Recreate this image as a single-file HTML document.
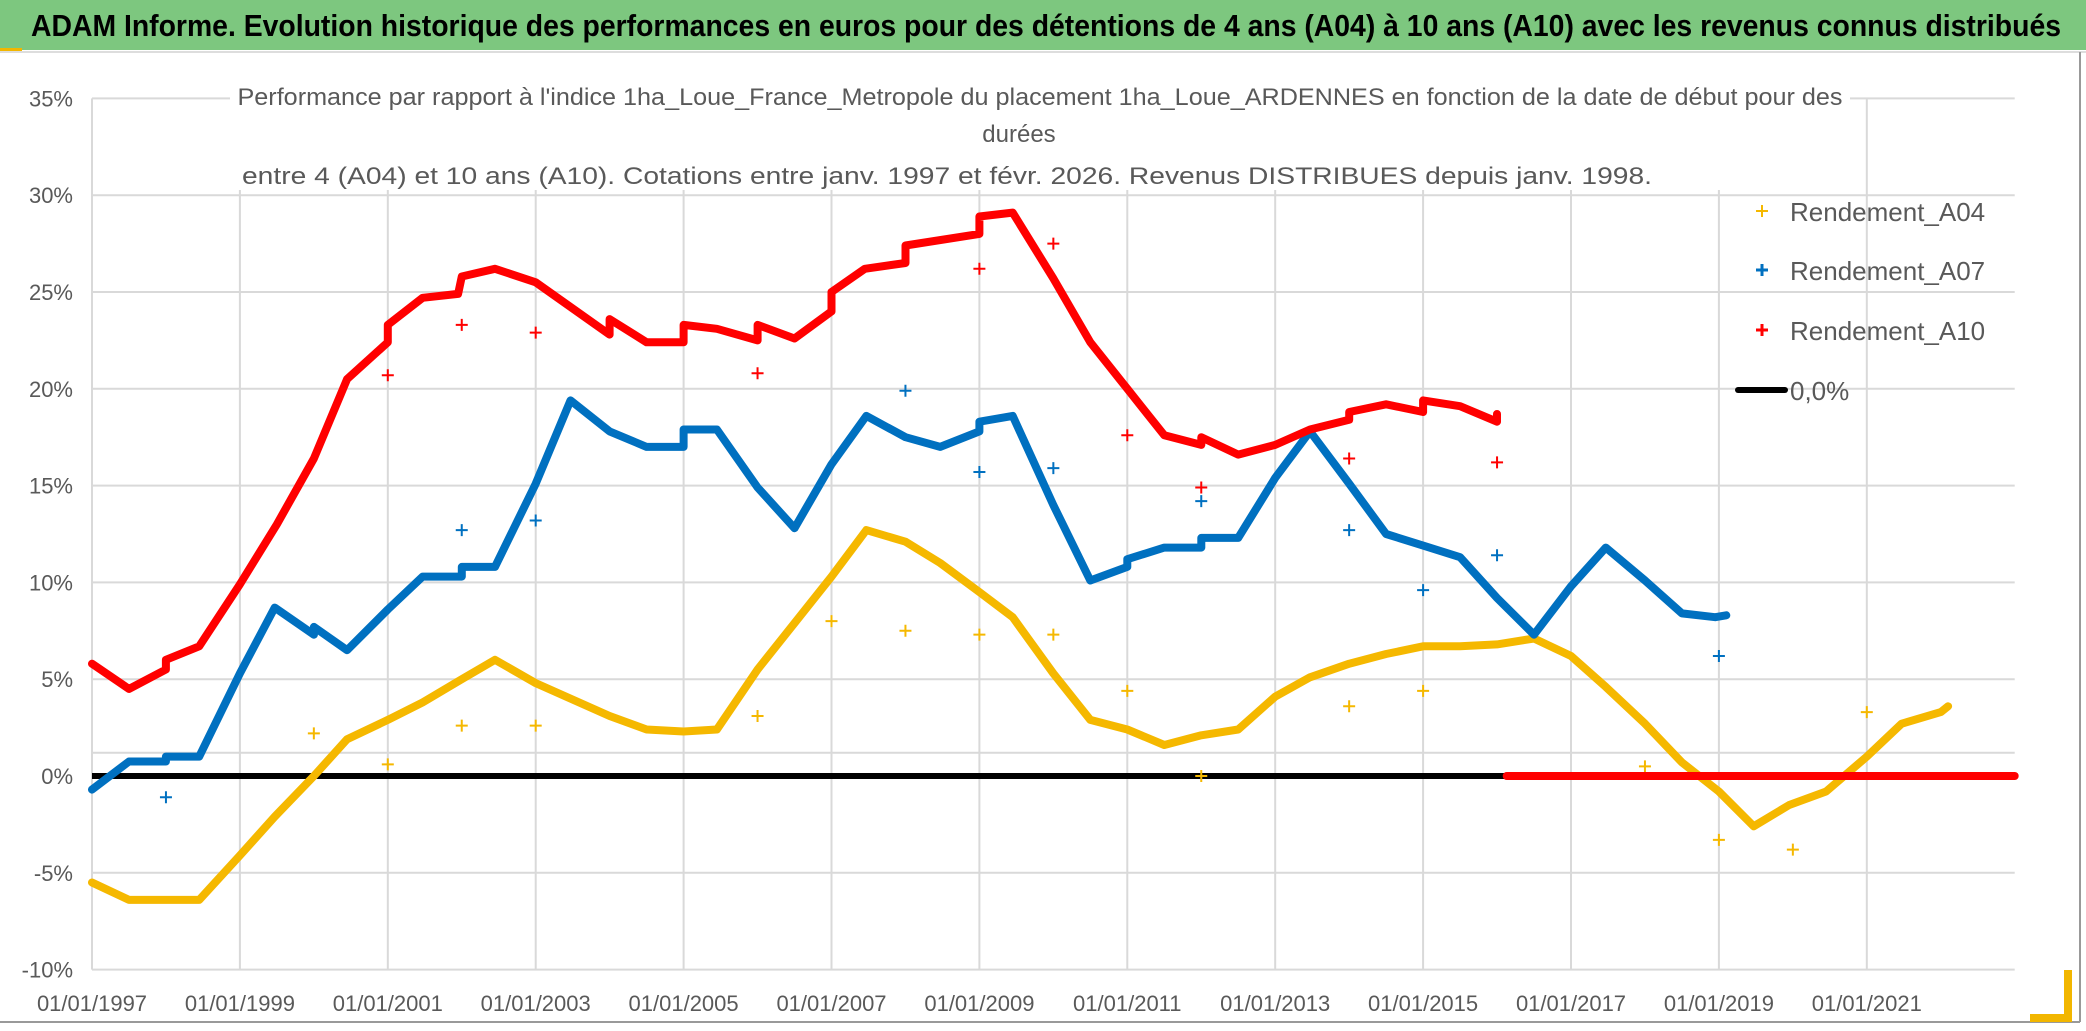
<!DOCTYPE html>
<html><head><meta charset="utf-8"><style>
html,body{margin:0;padding:0;background:#fff;}
svg{display:block;font-family:"Liberation Sans",sans-serif;}
</style></head><body>
<svg id="chart" width="2086" height="1031" viewBox="0 0 2086 1031" xmlns="http://www.w3.org/2000/svg">
<rect x="0" y="0" width="2086" height="50" fill="#7dc77f"/>
<rect x="0" y="48" width="22" height="4" fill="#f2b600"/>
<text x="1046" y="36" text-anchor="middle" font-size="31" font-weight="bold" fill="#000" textLength="2030" lengthAdjust="spacingAndGlyphs">ADAM Informe. Evolution historique des performances en euros pour des détentions de 4 ans (A04) à 10 ans (A10) avec les revenus connus distribués</text>
<line x1="0" y1="52" x2="2086" y2="52" stroke="#ddd" stroke-width="2"/>
<line x1="2080" y1="52" x2="2080" y2="1022" stroke="#999" stroke-width="2"/>
<line x1="0" y1="1022" x2="2080" y2="1022" stroke="#999" stroke-width="2"/>
<rect x="2064" y="970" width="8" height="52" fill="#f2b600"/>
<rect x="2030" y="1014" width="42" height="8" fill="#f2b600"/>
<g id="grid"></g>
<g id="yaxis"></g>
<g id="xaxis"></g>
<rect x="230" y="75" width="1620" height="115" fill="#fff"/>
<g font-size="24" fill="#595959">
<text x="1040" y="105" text-anchor="middle" textLength="1605" lengthAdjust="spacingAndGlyphs">Performance par rapport à l'indice 1ha_Loue_France_Metropole  du placement 1ha_Loue_ARDENNES en fonction de la date de début pour des</text>
<text x="1019" y="142" text-anchor="middle">durées</text>
<text x="947" y="184" text-anchor="middle" textLength="1410" lengthAdjust="spacingAndGlyphs">entre 4 (A04) et 10 ans (A10). Cotations entre janv. 1997 et févr. 2026. Revenus DISTRIBUES depuis janv. 1998.</text>
</g>
<g id="series"></g>
<g id="legend" font-size="26" fill="#595959">
<g><path d="M1756 211h12M1762 205v12" stroke="#f5b800" stroke-width="2"/><text x="1790" y="221">Rendement_A04</text></g>
<g><path d="M1756 270h12M1762 264v12" stroke="#0070c0" stroke-width="3"/><text x="1790" y="280">Rendement_A07</text></g>
<g><path d="M1756 330h12M1762 324v12" stroke="#ff0000" stroke-width="3"/><text x="1790" y="340">Rendement_A10</text></g>
<g><line x1="1738" y1="390" x2="1785" y2="390" stroke="#000" stroke-width="6" stroke-linecap="round"/><text x="1790" y="400">0,0%</text></g>
</g>
</svg>
<script>
const yTicks=[35,30,25,20,15,10,5,0,-5,-10];
const yTickLabels=["35%","30%","25%","20%","15%","10%","5%","0%","-5%","-10%"];
const xTicks=[1997,1999,2001,2003,2005,2007,2009,2011,2013,2015,2017,2019,2021];
const xTickLabels=["01/01/1997","01/01/1999","01/01/2001","01/01/2003","01/01/2005","01/01/2007","01/01/2009","01/01/2011","01/01/2013","01/01/2015","01/01/2017","01/01/2019","01/01/2021"];
const a10Dates=[1997.0,1997.5,1998.0,1998.0,1998.45,1999.0,1999.5,2000.0,2000.45,2001.0,2001.0,2001.47,2001.95,2002.0,2002.45,2003.0,2004.0,2004.0,2004.5,2005.0,2005.0,2005.45,2006.0,2006.0,2006.5,2007.0,2007.0,2007.45,2008.0,2008.0,2009.0,2009.0,2009.45,2010.0,2010.5,2011.0,2011.5,2012.0,2012.0,2012.5,2013.0,2013.47,2014.0,2014.0,2014.5,2015.0,2015.0,2015.5,2016.0,2016.0];
const a10Values=[5.8,4.5,5.5,6.0,6.7,9.9,13.0,16.4,20.5,22.4,23.3,24.7,24.9,25.8,26.2,25.5,22.8,23.6,22.4,22.4,23.3,23.1,22.5,23.3,22.6,24.0,25.0,26.2,26.5,27.4,28.0,28.9,29.1,25.7,22.4,20.0,17.6,17.1,17.5,16.6,17.1,17.9,18.4,18.8,19.2,18.8,19.4,19.1,18.3,18.7];
const a10OutDates=[2001,2002,2003,2006,2009,2010,2011,2012,2014,2016];
const a10OutValues=[20.7,23.3,22.9,20.8,26.2,27.5,17.6,14.9,16.4,16.2];
const a10ZeroDates=[2016.13,2023.0];
const a10ZeroValues=[0,0];
const a07Dates=[1997.0,1997.5,1998.0,1998.0,1998.45,1999.0,1999.47,2000.0,2000.0,2000.45,2001.0,2001.47,2002.0,2002.0,2002.45,2003.0,2003.47,2004.0,2004.5,2005.0,2005.0,2005.45,2006.0,2006.5,2007.0,2007.47,2008.0,2008.47,2009.0,2009.0,2009.45,2010.0,2010.5,2011.0,2011.0,2011.5,2012.0,2012.0,2012.5,2013.0,2013.47,2014.0,2014.5,2015.0,2015.5,2016.0,2016.5,2017.0,2017.47,2018.0,2018.5,2018.95,2019.1];
const a07Values=[-0.7,0.75,0.75,1.0,1.0,5.3,8.7,7.3,7.7,6.5,8.6,10.3,10.3,10.8,10.8,15.1,19.4,17.8,17.0,17.0,17.9,17.9,14.9,12.8,16.1,18.6,17.5,17.0,17.8,18.3,18.6,14.0,10.1,10.8,11.2,11.8,11.8,12.3,12.3,15.4,17.8,15.1,12.5,11.9,11.3,9.2,7.3,9.8,11.8,10.1,8.4,8.2,8.3];
const a07OutDates=[1998,2002,2003,2008,2009,2010,2012,2014,2015,2016,2019];
const a07OutValues=[-1.1,12.7,13.2,19.9,15.7,15.9,14.2,12.7,9.6,11.4,6.2];
const a04Dates=[1997.0,1997.5,1998.0,1998.45,1999.0,1999.47,2000.0,2000.45,2001.0,2001.47,2002.0,2002.45,2003.0,2004.0,2004.5,2005.0,2005.45,2006.0,2006.5,2007.0,2007.47,2008.0,2008.47,2009.0,2009.45,2010.0,2010.5,2011.0,2011.5,2012.0,2012.5,2013.0,2013.47,2014.0,2014.5,2015.0,2015.5,2016.0,2016.5,2017.0,2017.47,2018.0,2018.5,2019.0,2019.47,2019.95,2020.45,2021.0,2021.47,2022.0,2022.1];
const a04Values=[-5.5,-6.4,-6.4,-6.4,-4.1,-2.1,0,1.9,2.9,3.8,5.0,6.0,4.8,3.1,2.4,2.3,2.4,5.5,7.9,10.3,12.7,12.1,11.0,9.5,8.2,5.3,2.9,2.4,1.6,2.1,2.4,4.1,5.1,5.8,6.3,6.7,6.7,6.8,7.1,6.2,4.6,2.7,0.7,-0.8,-2.6,-1.5,-0.8,1.0,2.7,3.3,3.6];
const a04OutDates=[2000,2001,2002,2003,2006,2007,2008,2009,2010,2011,2012,2014,2015,2018,2019,2020,2021];
const a04OutValues=[2.2,0.6,2.6,2.6,3.1,8.0,7.5,7.3,7.3,4.4,0,3.6,4.4,0.5,-3.3,-3.8,3.3];

const NS="http://www.w3.org/2000/svg";
const X0=92, XPY=73.95, Y0=776, YPP=19.36, XMIN=1997, XMAX=2023, VMIN=-10, VMAX=35;
function xs(d){return X0+(d-XMIN)*XPY;}
function ys(v){return Y0-v*YPP;}
function mk(tag,attrs,parent){const e=document.createElementNS(NS,tag);for(const k in attrs)e.setAttribute(k,attrs[k]);parent.appendChild(e);return e;}
const grid=document.getElementById('grid'),yax=document.getElementById('yaxis'),xax=document.getElementById('xaxis'),ser=document.getElementById('series');
yTicks.forEach((t,i)=>{
  const l=mk('line',{x1:xs(XMIN),x2:xs(XMAX),y1:ys(t),y2:ys(t),stroke:'#d9d9d9','stroke-width':2},grid);
  
  
  const tx=mk('text',{x:73,y:ys(t)+8,'text-anchor':'end','font-size':22,fill:'#595959'},yax);
  tx.textContent=yTickLabels[i];
  
  
});
const extra=mk('line',{x1:xs(XMIN),x2:xs(XMAX),y1:ys(1.2),y2:ys(1.2),stroke:'#d9d9d9','stroke-width':2},grid);


xTicks.forEach((t,i)=>{
  const l=mk('line',{x1:xs(t),x2:xs(t),y1:ys(VMAX),y2:ys(VMIN),stroke:'#d9d9d9','stroke-width':2},grid);
  
  
  const tx=mk('text',{x:xs(t),y:1011,'text-anchor':'middle','font-size':22,fill:'#595959'},xax);
  tx.textContent=xTickLabels[i];
  
  
});
const zl=mk('line',{x1:xs(XMIN),x2:xs(XMAX),y1:ys(0),y2:ys(0),stroke:'#000','stroke-width':6},ser);


function drawLine(dates,vals,color,name){
  const pts=dates.map((d,i)=>xs(d).toFixed(1)+','+ys(vals[i]).toFixed(1)).join(' ');
  const p=mk('polyline',{points:pts,fill:'none',stroke:color,'stroke-width':8,'stroke-linejoin':'round','stroke-linecap':'round'},ser);
  
  
}
function drawOut(dates,vals,color,name){
  dates.forEach((d,i)=>{
    const x=xs(d),y=ys(vals[i]);
    const p=mk('path',{d:`M${x-6} ${y}h12M${x} ${y-6}v12`,stroke:color,'stroke-width':2},ser);
    
    
  });
}
drawLine(a04Dates,a04Values,'#f5b800','series-a04');
drawOut(a04OutDates,a04OutValues,'#f5b800','point-a04');
drawLine(a07Dates,a07Values,'#0070c0','series-a07');
drawOut(a07OutDates,a07OutValues,'#0070c0','point-a07');
drawLine(a10Dates,a10Values,'#ff0000','series-a10');
drawOut(a10OutDates,a10OutValues,'#ff0000','point-a10');
drawLine(a10ZeroDates,a10ZeroValues,'#ff0000','series-a10-zero');
</script>
</body></html>
